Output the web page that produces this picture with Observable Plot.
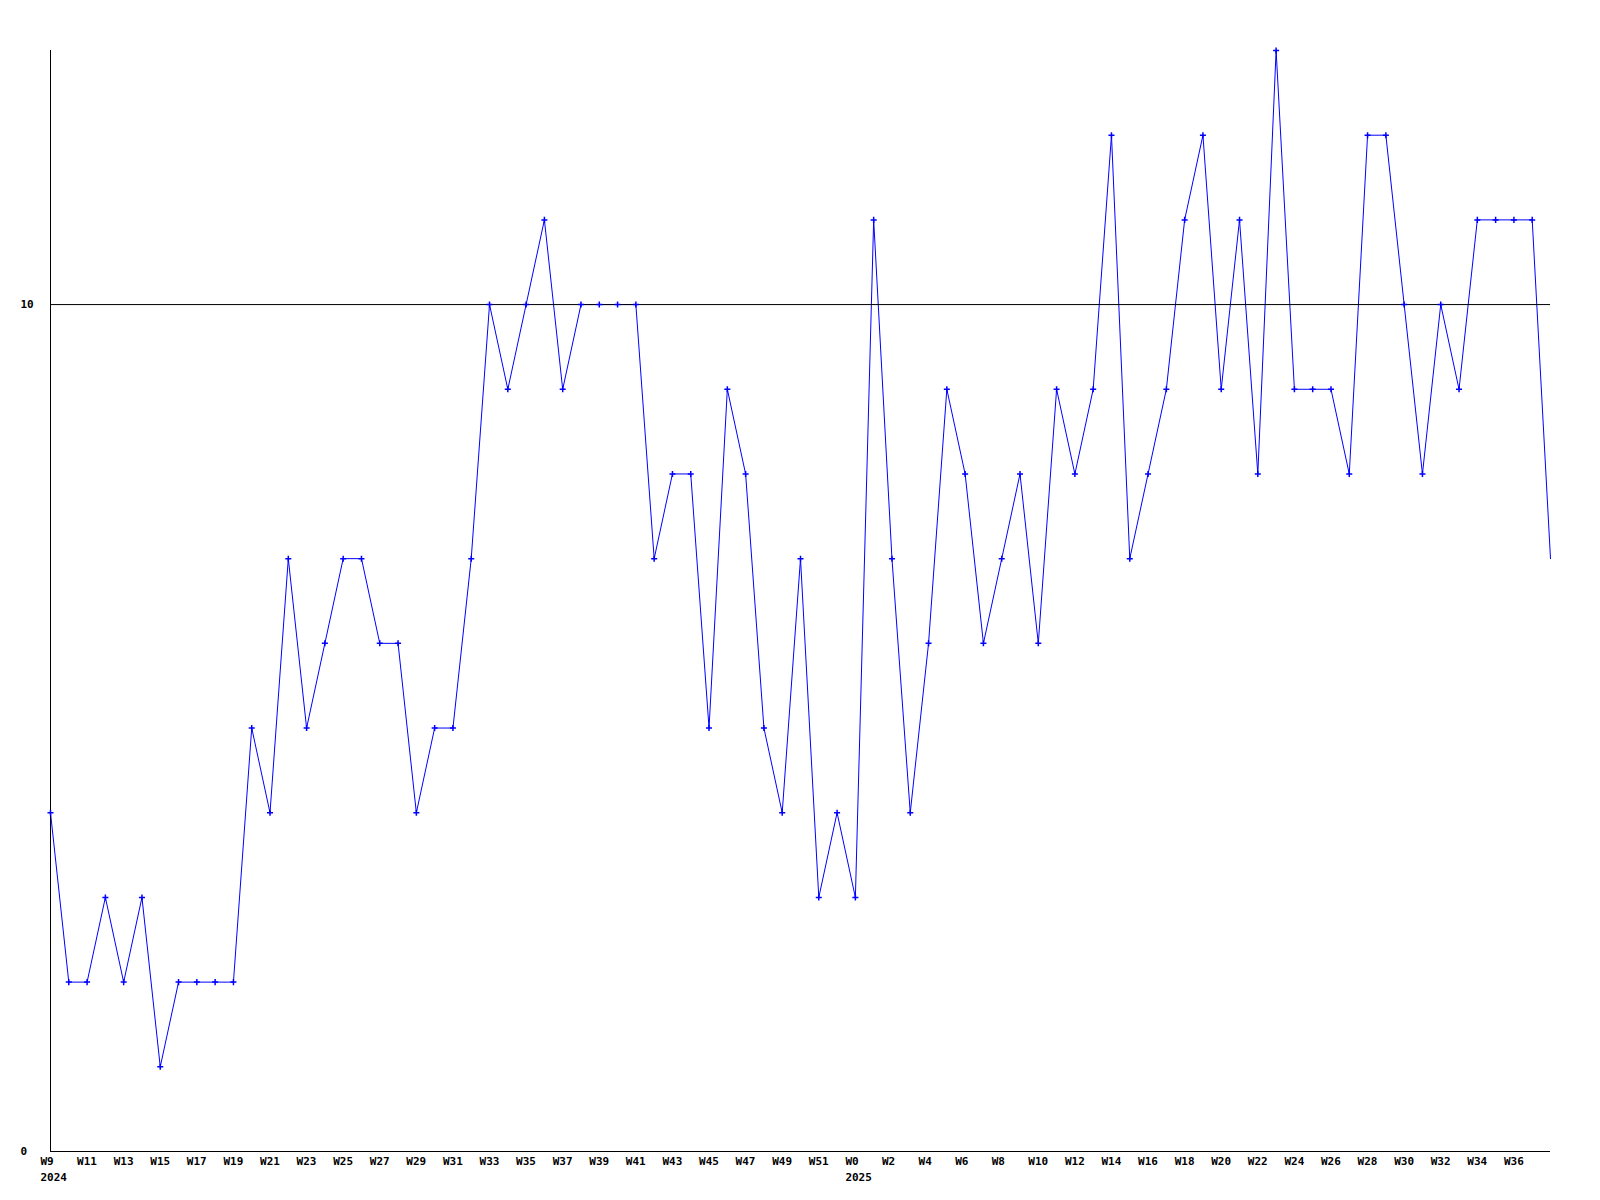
<!DOCTYPE html>
<html>
<head>
<meta charset="utf-8">
<script src="https://cdn.jsdelivr.net/npm/d3@7"></script>
<script src="https://cdn.jsdelivr.net/npm/@observablehq/plot@0.6"></script>
<style>
  html, body { margin: 0; padding: 0; background: #fff; }
</style>
</head>
<body>
<div id="chart"></div>
<script>
// Weeks of 2024 (W9..W52) and their values
const weeks2024 = ["W9","W10","W11","W12","W13","W14","W15","W16","W17","W18","W19","W20","W21","W22","W23","W24","W25","W26","W27","W28","W29","W30","W31","W32","W33","W34","W35","W36","W37","W38","W39","W40","W41","W42","W43","W44","W45","W46","W47","W48","W49","W50","W51","W52"];
const values2024 = [4,2,2,3,2,3,1,2,2,2,2,5,4,7,5,6,7,7,6,6,4,5,5,7,10,9,10,11,9,10,10,10,10,7,8,8,5,9,8,5,4,7,3,4];

// Weeks of 2025 (W0..W38) and their values
const weeks2025 = ["W0","W1","W2","W3","W4","W5","W6","W7","W8","W9","W10","W11","W12","W13","W14","W15","W16","W17","W18","W19","W20","W21","W22","W23","W24","W25","W26","W27","W28","W29","W30","W31","W32","W33","W34","W35","W36","W37","W38"];
const values2025 = [3,11,7,4,6,9,8,6,7,8,6,9,8,9,12,7,8,9,11,12,9,11,8,13,9,9,9,8,12,12,10,8,10,9,11,11,11,11,7];

// Tick labels
const tickWeeks2024 = ["W9","W11","W13","W15","W17","W19","W21","W23","W25","W27","W29","W31","W33","W35","W37","W39","W41","W43","W45","W47","W49","W51"];
const tickWeeks2025 = ["W0","W2","W4","W6","W8","W10","W12","W14","W16","W18","W20","W22","W24","W26","W28","W30","W32","W34","W36"];
const yearLabels = {"2024-W9": "2024", "2025-W0": "2025"};
const yTicks = [0, 10];
const gridLines = [10];
const yMax = 13;

const data = [
  ...weeks2024.map((w, i) => ({key: "2024-" + w, week: w, value: values2024[i]})),
  ...weeks2025.map((w, i) => ({key: "2025-" + w, week: w, value: values2025[i]}))
];
data.forEach((d, i) => d.idx = i);
const keyIndex = new Map(data.map(d => [d.key, d.idx]));
const xTicks = [
  ...tickWeeks2024.map(w => keyIndex.get("2024-" + w)),
  ...tickWeeks2025.map(w => keyIndex.get("2025-" + w))
];
const fmtX = i => {
  const d = data[i];
  return yearLabels[d.key] ? d.week + "\n" + yearLabels[d.key] : d.week;
};

const chart = Plot.plot({
  width: 1600,
  height: 1200,
  marginLeft: 50,
  marginRight: 50,
  marginTop: 50,
  marginBottom: 49,
  style: {
    fontFamily: "'DejaVu Sans Mono', monospace",
    fontSize: "11px",
    fontWeight: "bold",
    color: "#000",
    background: "#fff"
  },
  x: {type: "linear", domain: [0, data.length - 1]},
  y: {domain: [0, yMax]},
  marks: [
    Plot.line(data, {x: "idx", y: "value", stroke: "#0000ff", strokeWidth: 1}),
    Plot.ruleY(gridLines, {stroke: "#000", strokeWidth: 1}),
    Plot.ruleY([0], {stroke: "#000", strokeWidth: 1}),
    Plot.ruleX([0], {y1: 0, y2: yMax, stroke: "#000", strokeWidth: 1}),
    Plot.dot(data.slice(0, -1), {x: "idx", y: "value", symbol: "plus", stroke: "#0000ff", strokeWidth: 1.5, r: 2.1}),
    Plot.axisX({
      ticks: xTicks,
      tickFormat: fmtX,
      tickSize: 0,
      tickPadding: 3,
      textAnchor: "start",
      dx: -10,
      lineHeight: 1.4,
      fontSize: 11,
      label: null
    }),
    Plot.axisY({
      ticks: yTicks,
      tickSize: 0,
      tickPadding: 0,
      textAnchor: "start",
      dx: -30,
      fontSize: 11,
      label: null
    })
  ]
});
document.getElementById("chart").appendChild(chart);
</script>
</body>
</html>
